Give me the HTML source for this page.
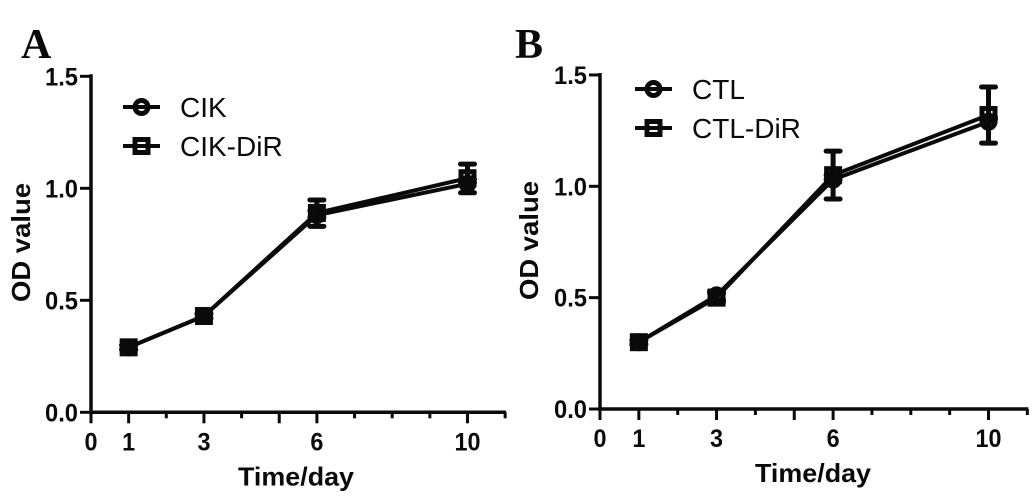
<!DOCTYPE html>
<html lang="en">
<head>
<meta charset="utf-8">
<title>OD value over time</title>
<style>
html,body{margin:0;padding:0;background:#fff;width:1033px;height:497px;overflow:hidden}
svg{display:block}
text{font-family:"Liberation Sans",Arial,sans-serif;fill:#0a0a0a}
.tick{font-weight:700;font-size:25px}
.title{font-weight:700;font-size:26px}
.legend{font-size:28px}
.panel{font-family:"Liberation Serif",serif;font-weight:700;font-size:42px}
</style>
</head>
<body>
<svg id="chart" xmlns="http://www.w3.org/2000/svg" width="1033" height="497" viewBox="0 0 1033 497"></svg>
<script>
var days = [1, 3, 6, 10];
var xTickLabels = ['0', '1', '3', '6', '10'];
var xTickValues = [0, 1, 2, 3, 4, 5, 6, 7, 8, 9, 10, 11];
var xLongTicks = [0, 1, 3, 5, 6, 10];
var yTickLabels = ['0.0', '0.5', '1.0', '1.5'];

var cikValues = [0.29, 0.43, 0.88, 1.02];
var cikErrUp = [0.01, 0.01, 0.02, 0.02];
var cikErrDown = [0.01, 0.01, 0.05, 0.04];
var cikDirValues = [0.29, 0.43, 0.89, 1.045];
var cikDirErrUp = [0.01, 0.01, 0.058, 0.063];
var cikDirErrDown = [0.01, 0.01, 0.02, 0.02];

var ctlValues = [0.30, 0.51, 1.03, 1.29];
var ctlErrUp = [0.01, 0.02, 0.02, 0.02];
var ctlErrDown = [0.01, 0.02, 0.087, 0.096];
var ctlDirValues = [0.30, 0.50, 1.05, 1.32];
var ctlDirErrUp = [0.01, 0.02, 0.108, 0.126];
var ctlDirErrDown = [0.01, 0.02, 0.02, 0.02];

var NS = 'http://www.w3.org/2000/svg';
var root = document.getElementById('chart');
var INK = '#0a0a0a';

function make(tag, parent, props, text) {
  var el = document.createElementNS(NS, tag);
  for (var k in props) el.setAttribute(k, props[k]);
  if (text !== undefined) el.textContent = text;
  parent.appendChild(el);
  return el;
}

function drawMarker(parent, kind, cx, cy, name) {
  var el;
  if (kind === 'circle') {
    el = make('circle', parent, {cx: cx, cy: cy, r: 6.5, fill: 'none', stroke: INK, 'stroke-width': 5});
  } else {
    el = make('rect', parent, {x: cx - 6.5, y: cy - 6.5, width: 13, height: 13, fill: 'none', stroke: INK, 'stroke-width': 5});
  }
  
  
}

function drawPanel(cfg) {
  var g = make('g', root, {});
  
  

  function xScale(v) { return cfg.x0 + v * cfg.xUnit; }
  function yScale(v) { return cfg.y0 - v * cfg.yUnit; }

  var letter = make('text', g, {x: cfg.letterX, y: 58, 'class': 'panel'}, cfg.letter);
  
  

  var yAxis = make('line', g, {x1: xScale(0), x2: xScale(0), y1: yScale(1.5) - 2, y2: yScale(0) + 2, stroke: INK, 'stroke-width': 3.5});
  
  

  var xAxis = make('line', g, {x1: xScale(0) - 1, x2: xScale(11) + 1, y1: yScale(0), y2: yScale(0), stroke: INK, 'stroke-width': 3.5});
  
  

  yTickLabels.forEach(function (label) {
    var v = parseFloat(label);
    var tick = make('line', g, {x1: xScale(0) - 11, x2: xScale(0), y1: yScale(v), y2: yScale(v), stroke: INK, 'stroke-width': 3});
    
    
    var t = make('text', g, {x: xScale(0) - 13, y: yScale(v) + 9, 'text-anchor': 'end', 'class': 'tick', textLength: 33, lengthAdjust: 'spacingAndGlyphs'}, label);
    
    
  });

  xTickValues.forEach(function (v) {
    var len = xLongTicks.indexOf(v) >= 0 ? 11 : 6;
    var tick = make('line', g, {x1: xScale(v), x2: xScale(v), y1: yScale(0), y2: yScale(0) + len, stroke: INK, 'stroke-width': 3});
    
    
  });

  xTickLabels.forEach(function (label) {
    var t = make('text', g, {x: xScale(parseFloat(label)), y: yScale(0) + 38, 'text-anchor': 'middle', 'class': 'tick', textLength: label.length * 13, lengthAdjust: 'spacingAndGlyphs'}, label);
    
    
  });

  var xTitle = make('text', g, {x: cfg.xTitleX, y: cfg.y0 + 73, 'text-anchor': 'middle', 'class': 'title', textLength: 116, lengthAdjust: 'spacingAndGlyphs'}, 'Time/day');
  
  

  var yTitle = make('text', g, {transform: 'translate(' + cfg.yTitleX + ' ' + cfg.yTitleY + ') rotate(-90)', 'text-anchor': 'middle', 'class': 'title', textLength: 119, lengthAdjust: 'spacingAndGlyphs'}, 'OD value');
  
  

  cfg.series.forEach(function (s) {
    var sg = make('g', g, {});
    
    

    var pts = days.map(function (d, i) { return xScale(d) + ',' + yScale(s.values[i]); }).join(' ');
    var line = make('polyline', sg, {points: pts, fill: 'none', stroke: INK, 'stroke-width': 4, 'stroke-linejoin': 'round'});
    
    

    days.forEach(function (d, i) {
      var x = xScale(d);
      var top = yScale(s.values[i] + s.up[i]);
      var bottom = yScale(s.values[i] - s.down[i]);
      var err = make('path', sg, {
        d: 'M' + x + ' ' + top + 'V' + bottom +
           'M' + (x - 7) + ' ' + top + 'H' + (x + 7) +
           'M' + (x - 7) + ' ' + bottom + 'H' + (x + 7),
        fill: 'none', stroke: INK, 'stroke-width': 5, 'stroke-linecap': 'round'
      });
      
      
      drawMarker(sg, s.marker, x, yScale(s.values[i]), 'data-point');
    });

    var lg = make('g', g, {});
    
    
    var swatch = make('line', lg, {x1: cfg.legendX, x2: cfg.legendX + 37, y1: s.legendY, y2: s.legendY, stroke: INK, 'stroke-width': 4});
    
    
    drawMarker(lg, s.marker, cfg.legendX + 18.5, s.legendY, 'legend-marker');
    var lt = make('text', lg, {x: cfg.legendX + 57, y: s.legendY + 10, 'class': 'legend'}, s.name);
    
    
  });
}

drawPanel({
  id: 'a', letter: 'A', letterX: 21,
  x0: 91, xUnit: 37.65, y0: 412.3, yUnit: 224,
  xTitleX: 296, yTitleX: 30, yTitleY: 242.5, legendX: 123,
  series: [
    {name: 'CIK', marker: 'circle', values: cikValues, up: cikErrUp, down: cikErrDown, legendY: 107},
    {name: 'CIK-DiR', marker: 'square', values: cikDirValues, up: cikDirErrUp, down: cikDirErrDown, legendY: 146}
  ]
});

drawPanel({
  id: 'b', letter: 'B', letterX: 515,
  x0: 600, xUnit: 38.85, y0: 409, yUnit: 222.7,
  xTitleX: 813, yTitleX: 538, yTitleY: 240.5, legendX: 635,
  series: [
    {name: 'CTL', marker: 'circle', values: ctlValues, up: ctlErrUp, down: ctlErrDown, legendY: 89},
    {name: 'CTL-DiR', marker: 'square', values: ctlDirValues, up: ctlDirErrUp, down: ctlDirErrDown, legendY: 128}
  ]
});
</script>
</body>
</html>
